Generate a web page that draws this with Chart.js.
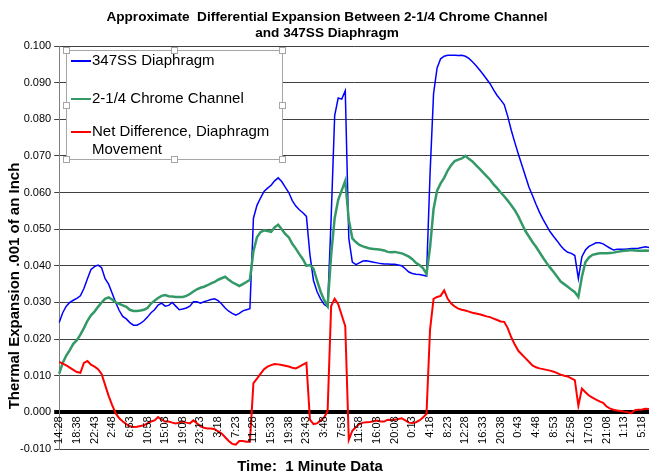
<!DOCTYPE html>
<html>
<head>
<meta charset="utf-8">
<script src="https://cdn.jsdelivr.net/npm/chart.js@4.4.1/dist/chart.umd.min.js"></script>
<style>
  html, body { margin: 0; padding: 0; background: #fff; }
</style>
</head>
<body>
<canvas id="expChart" width="649" height="476"></canvas>
<script>
var FONT = "'Liberation Sans', Arial, sans-serif";

// tick labels shown on the time axis, one every 5 samples
var timeLabels = ['14:28', '18:38', '22:43', '2:48', '6:53', '10:58', '15:03', '19:08', '23:13', '3:18',
    '7:23', '11:28', '15:33', '19:38', '23:43', '3:48', '7:53', '11:58', '16:03', '20:08',
    '0:13', '4:18', '8:23', '12:28', '16:33', '20:38', '0:43', '4:48', '8:53', '12:58',
    '17:03', '21:08', '1:13', '5:18'];

var diaphragmData = [
    0.0245, 0.0272, 0.0290, 0.0300, 0.0306, 0.0311, 0.0318, 0.0338, 0.0365, 0.0390,
    0.0398, 0.0402, 0.0395, 0.0365, 0.0350, 0.0325, 0.0300, 0.0278, 0.0262, 0.0255,
    0.0245, 0.0238, 0.0238, 0.0243, 0.0250, 0.0260, 0.0272, 0.0280, 0.0293, 0.0298,
    0.0290, 0.0292, 0.0300, 0.0290, 0.0280, 0.0282, 0.0285, 0.0290, 0.0302, 0.0302,
    0.0298, 0.0302, 0.0305, 0.0308, 0.0310, 0.0305, 0.0296, 0.0285, 0.0276, 0.0270,
    0.0265, 0.0270, 0.0277, 0.0280, 0.0283, 0.0530, 0.0565, 0.0585, 0.0603, 0.0612,
    0.0620, 0.0632, 0.0640, 0.0630, 0.0615, 0.0600, 0.0578, 0.0563, 0.0553, 0.0545,
    0.0535, 0.0430, 0.0360, 0.0330, 0.0310, 0.0295, 0.0288, 0.0530, 0.0810, 0.0858,
    0.0855, 0.0878, 0.0475, 0.0410, 0.0403, 0.0408, 0.0413, 0.0414, 0.0412, 0.0410,
    0.0408, 0.0406, 0.0405, 0.0405, 0.0404, 0.0404, 0.0402, 0.0400, 0.0392, 0.0383,
    0.0379, 0.0377, 0.0376, 0.0374, 0.0372, 0.0650, 0.0870, 0.0940, 0.0965, 0.0972,
    0.0975, 0.0975, 0.0975, 0.0974, 0.0975, 0.0972, 0.0966, 0.0957, 0.0947, 0.0935,
    0.0923, 0.0910, 0.0897, 0.0880, 0.0865, 0.0853, 0.0840, 0.0808, 0.0770, 0.0737,
    0.0705, 0.0675, 0.0645, 0.0615, 0.0592, 0.0568, 0.0546, 0.0527, 0.0510, 0.0493,
    0.0480, 0.0468, 0.0455, 0.0444, 0.0437, 0.0434, 0.0428, 0.0365, 0.0425, 0.0443,
    0.0453, 0.0458, 0.0463, 0.0463, 0.0460, 0.0454, 0.0448, 0.0443, 0.0445, 0.0445,
    0.0445, 0.0446, 0.0447, 0.0447, 0.0448, 0.0450, 0.0452, 0.0450];

var channelData = [
    0.0106, 0.0135, 0.0155, 0.0170, 0.0187, 0.0197, 0.0212, 0.0230, 0.0250, 0.0265,
    0.0275, 0.0288, 0.0300, 0.0310, 0.0314, 0.0308, 0.0300, 0.0296, 0.0292, 0.0288,
    0.0280, 0.0277, 0.0277, 0.0278, 0.0280, 0.0285, 0.0297, 0.0305, 0.0312, 0.0318,
    0.0320, 0.0317, 0.0316, 0.0315, 0.0315, 0.0315, 0.0318, 0.0323, 0.0330, 0.0336,
    0.0340, 0.0343, 0.0347, 0.0352, 0.0356, 0.0362, 0.0366, 0.0370, 0.0362, 0.0355,
    0.0350, 0.0345, 0.0350, 0.0356, 0.0362, 0.0440, 0.0478, 0.0492, 0.0497, 0.0495,
    0.0493, 0.0505, 0.0512, 0.0500, 0.0487, 0.0478, 0.0460, 0.0447, 0.0432, 0.0418,
    0.0400, 0.0402, 0.0392, 0.0360, 0.0330, 0.0307, 0.0290, 0.0430, 0.0530, 0.0580,
    0.0606, 0.0632, 0.0525, 0.0475, 0.0465, 0.0457, 0.0453, 0.0450, 0.0447, 0.0446,
    0.0445, 0.0444, 0.0442, 0.0438, 0.0437, 0.0438, 0.0436, 0.0434, 0.0430, 0.0425,
    0.0418, 0.0408, 0.0402, 0.0394, 0.0378, 0.0450, 0.0555, 0.0605, 0.0625, 0.0640,
    0.0660, 0.0675, 0.0686, 0.0690, 0.0693, 0.0700, 0.0692, 0.0685, 0.0675, 0.0665,
    0.0655, 0.0645, 0.0635, 0.0622, 0.0612, 0.0600, 0.0590, 0.0578, 0.0565, 0.0552,
    0.0535, 0.0515, 0.0495, 0.0480, 0.0465, 0.0452, 0.0437, 0.0422, 0.0408, 0.0395,
    0.0383, 0.0370, 0.0357, 0.0350, 0.0343, 0.0335, 0.0328, 0.0315, 0.0370, 0.0410,
    0.0423, 0.0430, 0.0432, 0.0434, 0.0434, 0.0434, 0.0435, 0.0436, 0.0438, 0.0440,
    0.0441, 0.0442, 0.0443, 0.0442, 0.0441, 0.0441, 0.0442, 0.0441];

var netData = [
    0.0138, 0.0133, 0.0128, 0.0122, 0.0116, 0.0110, 0.0108, 0.0135, 0.0140, 0.0130,
    0.0125, 0.0118, 0.0105, 0.0075, 0.0045, 0.0020, -0.0003, -0.0016, -0.0025, -0.0032,
    -0.0038, -0.0040, -0.0039, -0.0037, -0.0035, -0.0030, -0.0025, -0.0022, -0.0013, -0.0020,
    -0.0025, -0.0025, -0.0028, -0.0030, -0.0028, -0.0025, -0.0028, -0.0030, -0.0022, -0.0030,
    -0.0038, -0.0042, -0.0044, -0.0044, -0.0046, -0.0052, -0.0058, -0.0068, -0.0078, -0.0086,
    -0.0088, -0.0078, -0.0078, -0.0080, -0.0080, 0.0080, 0.0092, 0.0105, 0.0118, 0.0125,
    0.0129, 0.0132, 0.0131, 0.0129, 0.0127, 0.0125, 0.0122, 0.0120, 0.0125, 0.0130,
    0.0135, -0.0020, -0.0032, -0.0030, -0.0022, -0.0014, 0.0003, 0.0290, 0.0310, 0.0295,
    0.0265, 0.0235, -0.0075, -0.0050, -0.0040, -0.0032, -0.0028, -0.0027, -0.0026, -0.0024,
    -0.0022, -0.0025, -0.0025, -0.0020, -0.0021, -0.0020, -0.0018, -0.0016, -0.0022, -0.0028,
    -0.0029, -0.0027, -0.0022, -0.0014, -0.0004, 0.0225, 0.0310, 0.0315, 0.0318, 0.0333,
    0.0310, 0.0297, 0.0289, 0.0283, 0.0280, 0.0278, 0.0275, 0.0272, 0.0270, 0.0268,
    0.0265, 0.0262, 0.0260, 0.0256, 0.0252, 0.0248, 0.0247, 0.0230, 0.0205, 0.0185,
    0.0168, 0.0158, 0.0148, 0.0138, 0.0128, 0.0123, 0.0120, 0.0118, 0.0116, 0.0114,
    0.0111, 0.0107, 0.0103, 0.0100, 0.0098, 0.0093, 0.0088, 0.0018, 0.0065, 0.0055,
    0.0046, 0.0040, 0.0035, 0.0030, 0.0026, 0.0016, 0.0010, 0.0007, 0.0005, 0.0004,
    0.0002, 0.0000, -0.0002, 0.0006, 0.0007, 0.0008, 0.0010, 0.0009];

var seriesNames = ['347SS Diaphragm', '2-1/4 Chrome Channel', 'Net Difference, Diaphragm|Movement'];
var seriesColors = ['#0000ff', '#339966', '#ff0000'];

// one category per sample, only every 5th one carries a time label
var labels = [];
for (var i = 0; i < diaphragmData.length; i++) {
    labels.push(i % 5 === 0 ? timeLabels[i / 5] : '');
}

// titles, time labels under the zero line and the boxed legend
var decorPlugin = {
    id: 'decor',
    afterDraw: function (chart) {
        var ctx = chart.ctx;
        var xs = chart.scales.x;
        var ys = chart.scales.y;
        ctx.save();
        ctx.fillStyle = '#000';

        ctx.font = 'bold 13.6px ' + FONT;
        ctx.textAlign = 'center';
        ctx.textBaseline = 'middle';
        ctx.fillText('Approximate  Differential Expansion Between 2-1/4 Chrome Channel', 327, 17);
        ctx.fillText('and 347SS Diaphragm', 327, 33);

        ctx.font = 'bold 15px ' + FONT;
        ctx.fillText('Time:  1 Minute Data', 310, 467);
        ctx.save();
        ctx.translate(15, 286);
        ctx.rotate(-Math.PI / 2);
        ctx.fillText('Thermal Expansion .001 of an Inch', 0, 0);
        ctx.restore();

        // time labels hang below the zero line
        ctx.font = '11px ' + FONT;
        ctx.textAlign = 'right';
        var y0 = ys.getPixelForValue(0);
        for (var k = 0; k < timeLabels.length; k++) {
            ctx.save();
            ctx.translate(xs.getPixelForValue(k * 5), y0 + 4);
            ctx.rotate(-Math.PI / 2);
            ctx.fillText(timeLabels[k], 0, 0);
            ctx.restore();
        }

        // legend box
        var bx = 66, by = 50, bw = 216, bh = 109;
        ctx.fillStyle = '#fff';
        ctx.fillRect(bx, by, bw, bh);
        ctx.strokeStyle = '#a6a6a6';
        ctx.lineWidth = 1;
        ctx.strokeRect(bx + 0.5, by + 0.5, bw, bh);
        var handles = [[0, 0], [0.5, 0], [1, 0], [0, 0.5], [1, 0.5], [0, 1], [0.5, 1], [1, 1]];
        handles.forEach(function (h) {
            var hx = Math.round(bx + h[0] * bw) - 3;
            var hy = Math.round(by + h[1] * bh) - 3;
            ctx.fillStyle = '#fff';
            ctx.fillRect(hx, hy, 6, 6);
            ctx.strokeStyle = '#a6a6a6';
            ctx.strokeRect(hx + 0.5, hy + 0.5, 6, 6);
        });

        var rows = [61, 99, 132];
        ctx.font = '15px ' + FONT;
        ctx.textAlign = 'left';
        ctx.textBaseline = 'middle';
        for (var s = 0; s < seriesNames.length; s++) {
            ctx.strokeStyle = seriesColors[s];
            ctx.lineWidth = 2;
            ctx.beginPath();
            ctx.moveTo(71, rows[s]);
            ctx.lineTo(91, rows[s]);
            ctx.stroke();
            ctx.fillStyle = '#000';
            var parts = seriesNames[s].split('|');
            for (var p = 0; p < parts.length; p++) {
                ctx.fillText(parts[p], 92, rows[s] + p * 18);
            }
        }
        ctx.restore();
    }
};

function isZero(c) {
    return c.tick && Math.abs(c.tick.value) < 1e-9;
}

var chart;

window.addEventListener('load', onload);

function onload(event) {
    var ctx = document.getElementById('expChart').getContext('2d');
    chart = new Chart(ctx, {
        type: 'line',
        data: {
            labels: labels,
            datasets: [
                {
                    label: seriesNames[0],
                    data: diaphragmData,
                    borderColor: seriesColors[0],
                    borderWidth: 1.5,
                    order: 3,
                },
                {
                    label: seriesNames[1],
                    data: channelData,
                    borderColor: seriesColors[1],
                    borderWidth: 2.5,
                    order: 2,
                },
                {
                    label: 'Net Difference, Diaphragm Movement',
                    data: netData,
                    borderColor: seriesColors[2],
                    borderWidth: 2,
                    order: 1,
                },
            ],
        },
        options: {
            responsive: false,
            animation: false,
            layout: {
                padding: { top: 46, bottom: 27, left: 17, right: 0 },
            },
            elements: {
                point: { radius: 0 },
                line: { tension: 0, fill: false },
            },
            plugins: {
                legend: { display: false },
                tooltip: { enabled: false },
            },
            scales: {
                x: {
                    type: 'category',
                    display: false,
                },
                y: {
                    min: -0.01,
                    max: 0.1,
                    ticks: {
                        stepSize: 0.01,
                        padding: 3,
                        color: '#000',
                        font: { family: FONT, size: 11 },
                        callback: function (v) { return v.toFixed(3); },
                    },
                    grid: {
                        tickLength: 5,
                        color: function (c) { return isZero(c) ? '#000' : '#404040'; },
                        lineWidth: function (c) { return isZero(c) ? 4 : 1; },
                    },
                    border: { color: '#808080', width: 1 },
                },
            },
        },
        plugins: [decorPlugin],
    });
}
</script>
</body>
</html>
